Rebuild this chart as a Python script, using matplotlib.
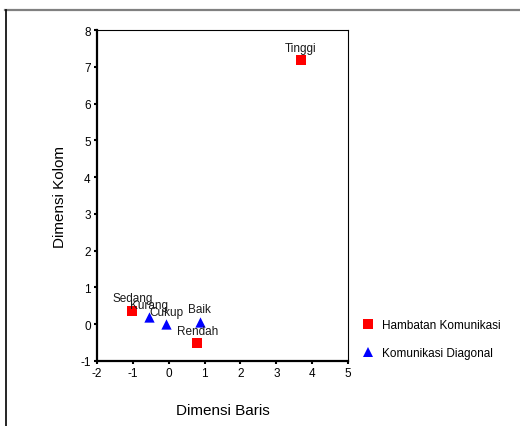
import matplotlib
matplotlib.use("Agg")
import matplotlib.pyplot as plt
from matplotlib.lines import Line2D

plt.rcParams['font.family'] = ['Liberation Sans', 'DejaVu Sans']
plt.rcParams['axes.unicode_minus'] = False

# Row points (Hambatan Komunikasi)
row_labels = ["Tinggi", "Sedang", "Rendah"]
row_x = [3.68, -1.01, 0.80]
row_y = [7.18, 0.37, -0.51]

# Column points (Komunikasi Diagonal)
col_labels = ["Kurang", "Cukup", "Baik"]
col_x = [-0.56, -0.07, 0.87]
col_y = [0.19, 0.00, 0.07]

x_ticks = [-2, -1, 0, 1, 2, 3, 4, 5]
y_ticks = [-1, 0, 1, 2, 3, 4, 5, 6, 7, 8]

fig = plt.figure(figsize=(5.2, 4.27), dpi=100)
ax = fig.add_axes([97 / 520, 1 - 362 / 427, (348 - 97) / 520, (362 - 31) / 427])

ax.scatter(row_x, row_y, marker="s", s=45, color="#ff0000", linewidths=0, zorder=3)
ax.scatter(col_x, col_y, marker="^", s=55, color="#0000ff", linewidths=0, zorder=3)

for lbl, x, y in zip(row_labels + col_labels, row_x + col_x, row_y + col_y):
    ax.annotate(lbl, (x, y), xytext=(0, 4.5), textcoords="offset points",
                ha="center", va="bottom", fontsize=8.5, color="#1a1a1a")

ax.set_xlim(-2, 5)
ax.set_ylim(-1, 8)
ax.set_xticks(x_ticks)
ax.set_yticks(y_ticks)
ax.tick_params(axis="both", direction="out", length=2.5, width=1.5,
               labelsize=8.5, pad=2, colors="black")
for side in ["left", "bottom"]:
    ax.spines[side].set_linewidth(1.6)
for side in ["top", "right"]:
    ax.spines[side].set_linewidth(0.8)

ax.set_xlabel("Dimensi Baris", fontsize=11, va="center")
ax.set_ylabel("Dimensi Kolom", fontsize=11, va="center")
ax.xaxis.set_label_coords(0.5, (362 - 411) / 331)
ax.yaxis.set_label_coords((60 - 97) / 251, 0.5)

# legend drawn in figure space at the right
handles = [
    Line2D([], [], marker="s", linestyle="none", color="#ff0000", markersize=6.5, markeredgewidth=0),
    Line2D([], [], marker="^", linestyle="none", color="#0000ff", markersize=7.5, markeredgewidth=0),
]
fig.legend(handles, ["Hambatan Komunikasi", "Komunikasi Diagonal"],
           loc="upper left", bbox_to_anchor=(357 / 520, 1 - 315 / 427),
           frameon=False, fontsize=8.5, handlelength=1.0, handletextpad=0.7,
           labelspacing=1.35, borderaxespad=0)

# outer frame (top gray, left black)
fig.add_artist(Line2D([5 / 520, 1], [1 - 11 / 427, 1 - 11 / 427], color="#808080", linewidth=1.6))
fig.add_artist(Line2D([5.5 / 520, 5.5 / 520], [1 - 11 / 427, 0], color="black", linewidth=1.2))

fig.savefig("out.png", dpi=100)
